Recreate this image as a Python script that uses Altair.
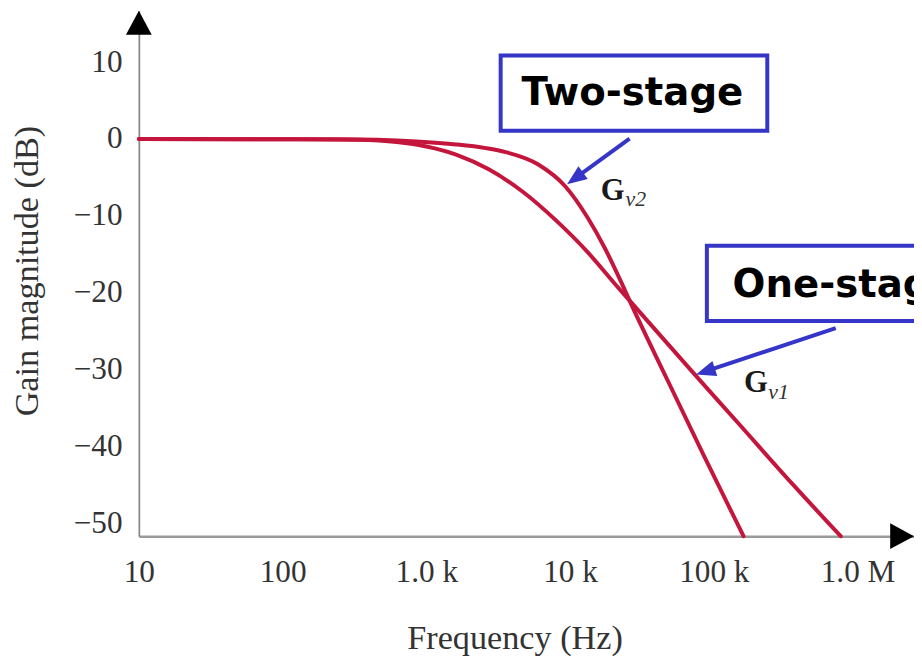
import altair as alt
import pandas as pd

# ---------------- data ----------------
# One-stage response G_v1 (frequency in Hz, gain in dB)
gv1_freq = [10, 127, 329, 621, 1000, 1610, 2718, 4664, 7880, 13300, 20400, 25900, 72800, 144000, 356000, 764000]
gv1_db = [0, -0.02, -0.10, -0.39, -0.97, -2.02, -3.94, -6.83, -10.49, -14.75, -18.80, -21.0, -30.54, -36.73, -44.99, -51.7]
# Two-stage response G_v2
gv2_freq = [10, 239, 853, 1610, 2594, 3565, 6010, 9250, 13300, 17400, 22900, 25900, 47400, 85300, 161000]
gv2_db = [0, -0.03, -0.32, -0.70, -1.18, -1.70, -3.31, -6.14, -10.28, -14.15, -18.79, -21.0, -31.3, -41.2, -51.7]

x_ticks = [10, 100, 1000, 10000, 100000, 1000000]
x_tick_labels = ["10", "100", "1.0 k", "10 k", "100 k", "1.0 M"]
y_ticks = [10, 0, -10, -20, -30, -40, -50]
x_domain = [10, 2471000]
y_domain = [-51.7, 16.69]

# annotation boxes (data coordinates)
box_text = ["Two-stage", "One-stage"]
box_f1 = [3290, 89500]
box_f2 = [235600, 10000000]
box_db1 = [10.88, -13.88]
box_db2 = [1.08, -23.69]
box_text_f = [4592, 135200]
box_text_db = [4.43, -20.6]

# annotation arrows
arrow_f_start = [25950, 705000]
arrow_db_start = [0.05, -24.6]
arrow_f_end = [10820, 87300]
arrow_db_end = [-5.11, -30.25]
tip_f = [9530, 75200]
tip_db = [-5.89, -30.66]
tip_angle = [234, 252]

# curve labels G_v2, G_v1
g_f = [16370, 162000]
g_db = [-7.95, -32.99]
sub_text = ["v2", "v1"]
sub_f = [24300, 239300]
sub_db = [-8.73, -33.89]

# ---------------- tables ----------------
curves = pd.DataFrame({
    "freq": gv1_freq + gv2_freq,
    "db": gv1_db + gv2_db,
    "series": ["Gv1"] * len(gv1_freq) + ["Gv2"] * len(gv2_freq),
})
boxes = pd.DataFrame({"freq": box_f1, "f2": box_f2, "db": box_db1, "d2": box_db2,
                      "tf": box_text_f, "td": box_text_db, "label": box_text})
arrows = pd.DataFrame({"freq": arrow_f_start, "db": arrow_db_start, "f2": arrow_f_end,
                       "d2": arrow_db_end, "tf": tip_f, "td": tip_db, "angle": tip_angle})
glabels = pd.DataFrame({"gf": g_f, "gd": g_db, "sf": sub_f, "sd": sub_db, "sub": sub_text})
axis_tips = pd.DataFrame({"freq": [x_domain[0], x_domain[1]], "db": [y_domain[1], y_domain[0]],
                          "which": ["y", "x"]})

RED = "#c4163c"
BLUE = "#3535c8"
SERIF = "Liberation Serif"

label_expr = " : ".join(
    f"datum.value == {v} ? '{t}'" for v, t in zip(x_ticks, x_tick_labels)
) + " : ''"

x_axis = alt.Axis(
    title="Frequency (Hz)", values=x_ticks, labelExpr=label_expr,
    grid=False, ticks=False, tickSize=0, domainColor="#9a9a9a", domainWidth=2.5,
    labelFont=SERIF, labelFontSize=31.5, labelColor="#333333", labelPadding=21,
    labelFlush=False, labelOverlap=False, labelBound=False,
    titleFont=SERIF, titleFontSize=34.5, titleFontWeight="normal", titleColor="#333333",
    titleX=379, titleY=113, titleAlign="center", titleBaseline="alphabetic",
)
y_axis = alt.Axis(
    title="Gain magnitude (dB)", values=y_ticks,
    labelExpr="datum.value < 0 ? '\u2212' + abs(datum.value) : '' + datum.value",
    grid=False, ticks=False, tickSize=0, domainColor="#8a8a8a", domainWidth=1.8,
    labelFont=SERIF, labelFontSize=31.5, labelColor="#333333", labelPadding=17,
    labelOverlap=False, labelBound=False, labelFlush=False,
    titleFont=SERIF, titleFontSize=34.5, titleFontWeight="normal", titleColor="#333333",
    titleX=-102, titleY=262, titleAlign="center", titleBaseline="alphabetic", titleAngle=270,
)


def X(field):
    return alt.X(field, type="quantitative",
                 scale=alt.Scale(type="log", domain=x_domain, nice=False),
                 axis=x_axis)


def Y(field):
    return alt.Y(field, type="quantitative",
                 scale=alt.Scale(domain=y_domain, nice=False, zero=False),
                 axis=y_axis)


lines = alt.Chart(curves).mark_line(
    color=RED, strokeWidth=4, interpolate="monotone", strokeCap="round"
).encode(
    x=X("freq"), y=Y("db"), detail="series:N"
)

rects = alt.Chart(boxes).mark_rect(
    fill="white", stroke=BLUE, strokeWidth=4
).encode(x=X("freq"), x2="f2", y=Y("db"), y2="d2")

box_labels = alt.Chart(boxes).mark_text(
    font="DejaVu Sans", fontWeight="bold", fontSize=39, align="left",
    baseline="alphabetic", color="black"
).encode(x=X("tf"), y=Y("td"), text="label:N")

arrow_lines = alt.Chart(arrows).mark_rule(
    color=BLUE, strokeWidth=4
).encode(x=X("freq"), y=Y("db"), x2="f2", y2="d2")

arrow_heads = alt.Chart(arrows).mark_point(
    shape="M0,0L-0.8,2L0.8,2Z", size=400, filled=True, color=BLUE, opacity=1
).encode(x=X("tf"), y=Y("td"), angle=alt.Angle("angle:Q", scale=None))

g_text = alt.Chart(glabels).mark_text(
    text="G", font=SERIF, fontWeight="bold", fontSize=31, align="left",
    baseline="alphabetic", color="#1a1a1a"
).encode(x=X("gf"), y=Y("gd"))

sub_marks = alt.Chart(glabels).mark_text(
    font=SERIF, fontStyle="italic", fontSize=22, align="left",
    baseline="alphabetic", color="#333333"
).encode(x=X("sf"), y=Y("sd"), text="sub:N")

y_tip = alt.Chart(axis_tips).transform_filter("datum.which == 'y'").mark_point(
    shape="M0,0L-1,1.85L1,1.85Z", size=676, filled=True, color="black", opacity=1
).encode(x=X("freq"), y=Y("db"))

x_tip = alt.Chart(axis_tips).transform_filter("datum.which == 'x'").mark_point(
    shape="M0,0L-1.85,-1L-1.85,1Z", size=676, filled=True, color="black", opacity=1
).encode(x=X("freq"), y=Y("db"))

chart = alt.layer(
    lines, rects, box_labels, arrow_lines, arrow_heads, g_text, sub_marks, y_tip, x_tip
).properties(
    width=782, height=530,
    autosize=alt.AutoSizeParams(type="none"),
    padding={"left": 132, "top": 0, "right": 0, "bottom": 124},
    background="white",
).configure_view(stroke=None)

chart.save("out.html", embed_options={"renderer": "svg", "actions": False})
